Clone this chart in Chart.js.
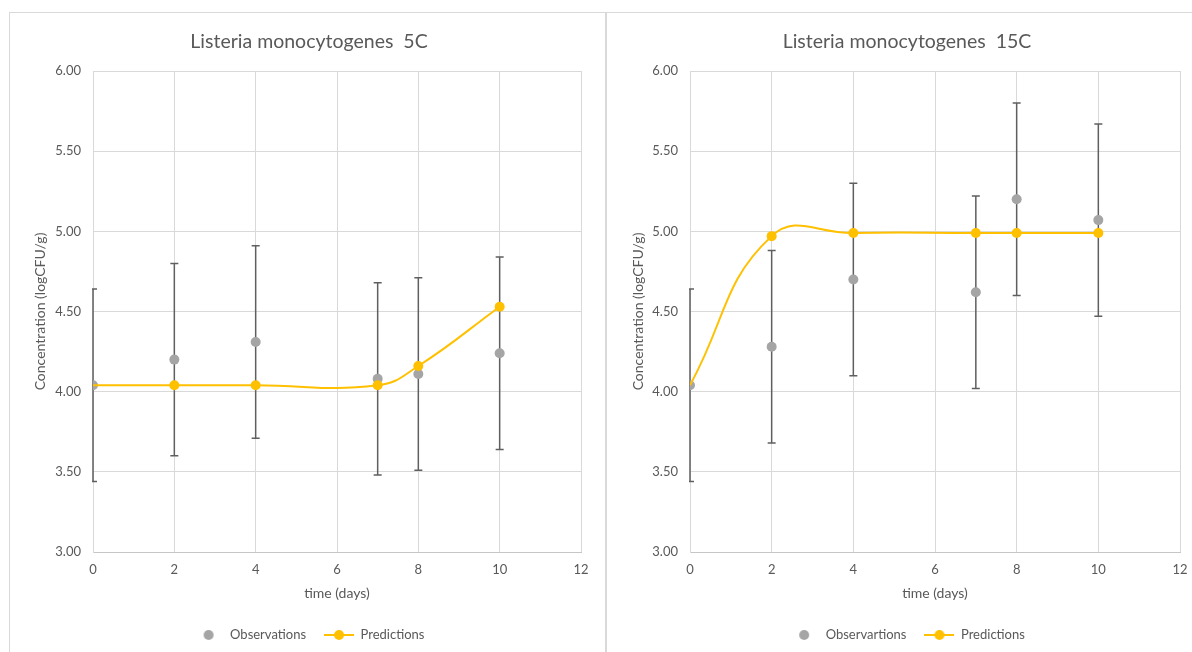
<!DOCTYPE html>
<html>
<head>
<meta charset="utf-8">
<title>Listeria monocytogenes growth</title>
<script src="https://cdn.jsdelivr.net/npm/chart.js@4.4.1/dist/chart.umd.min.js"></script>
<style>
  html, body { margin: 0; padding: 0; background: #ffffff; overflow: hidden; }
  .panel { position: absolute; top: 12px; height: 660px; border: 1px solid #D9D9D9; background: #ffffff; }
  #panel5 { left: 9px; width: 595px; }
  #panel15 { left: 606px; width: 620px; }
  .panel canvas { position: absolute; left: 0; top: 0; }
</style>
</head>
<body>
<div class="panel" id="panel5"><canvas id="chart5" width="595" height="640"></canvas></div>
<div class="panel" id="panel15"><canvas id="chart15" width="600" height="640"></canvas></div>
<script>
// Sampling days
const days = [0, 2, 4, 7, 8, 10];

// 5 °C storage: observed means, standard deviations and model predictions (log CFU/g)
const obs5C  = [4.04, 4.20, 4.31, 4.08, 4.11, 4.24];
const sd5C   = [0.60, 0.60, 0.60, 0.60, 0.60, 0.60];
const pred5C = [4.04, 4.04, 4.04, 4.04, 4.16, 4.53];

// 15 °C storage
const obs15C  = [4.04, 4.28, 4.70, 4.62, 5.20, 5.07];
const sd15C   = [0.60, 0.60, 0.60, 0.60, 0.60, 0.60];
const pred15C = [4.04, 4.97, 4.99, 4.99, 4.99, 4.99];

// Axis ticks
const xTicks = [0, 2, 4, 6, 8, 10, 12];
const yTicks = [3.0, 3.5, 4.0, 4.5, 5.0, 5.5, 6.0];

const TEXT = '#595959';
const GRID = '#D9D9D9';
const OBS_COLOR = '#A5A5A5';
const PRED_COLOR = '#FFC000';
const FONT = 'Lato, "Open Sans", sans-serif';

// Legend symbols: a plain marker, and a line with a marker
function markerSymbol(withLine) {
  const c = document.createElement('canvas');
  c.width = 30; c.height = 12;
  const g = c.getContext('2d');
  if (withLine) {
    g.strokeStyle = PRED_COLOR; g.lineWidth = 2;
    g.beginPath(); g.moveTo(0, 6); g.lineTo(30, 6); g.stroke();
  }
  g.fillStyle = withLine ? PRED_COLOR : OBS_COLOR;
  g.beginPath(); g.arc(15, 6, 5, 0, Math.PI * 2); g.fill();
  return c;
}
const legendSymbols = [markerSymbol(false), markerSymbol(true)];

// Vertical error bars (mean ± SD) for the observation dataset
const errorBarsPlugin = {
  id: 'errorBars',
  beforeDatasetsDraw(chart) {
    const ds = chart.data.datasets[0];
    const sd = ds.errorBars;
    if (!sd) return;
    const {ctx, chartArea, scales: {x, y}} = chart;
    ctx.save();
    ctx.beginPath();
    ctx.rect(chartArea.left - 1, chartArea.top - 2, chartArea.right - chartArea.left + 2, chartArea.bottom - chartArea.top + 4);
    ctx.clip();
    ctx.strokeStyle = '#5F5F5F';
    ctx.lineWidth = 1.5;
    ds.data.forEach((p, i) => {
      const px = x.getPixelForValue(p.x);
      const top = y.getPixelForValue(p.y + sd[i]);
      const bot = y.getPixelForValue(p.y - sd[i]);
      ctx.beginPath();
      ctx.moveTo(px, top); ctx.lineTo(px, bot);
      ctx.moveTo(px - 4, top); ctx.lineTo(px + 4, top);
      ctx.moveTo(px - 4, bot); ctx.lineTo(px + 4, bot);
      ctx.stroke();
    });
    ctx.restore();
  }
};

function makeChart(canvasId, title, obsLabel, obs, sd, pred, pad, yTitleOffset) {
  return new Chart(document.getElementById(canvasId), {
    type: 'scatter',
    data: {
      datasets: [
        {
          label: obsLabel,
          data: days.map((d, i) => ({x: d, y: obs[i]})),
          errorBars: sd,
          backgroundColor: OBS_COLOR,
          borderColor: OBS_COLOR,
          pointRadius: 5,
          pointHoverRadius: 5,
          borderWidth: 0,
          order: 1
        },
        {
          label: 'Predictions',
          data: days.map((d, i) => ({x: d, y: pred[i]})),
          showLine: true,
          tension: 0.45,
          borderColor: PRED_COLOR,
          backgroundColor: PRED_COLOR,
          borderWidth: 2,
          pointRadius: (c) => c.dataIndex === 0 ? 0 : 5,
          pointBorderWidth: 0,
          order: 0
        }
      ]
    },
    options: {
      responsive: false,
      animation: false,
      devicePixelRatio: 1,
      layout: { padding: pad },
      plugins: {
        tooltip: { enabled: false },
        title: {
          display: true,
          text: title,
          color: TEXT,
          font: { family: FONT, size: 19.5, weight: 'normal' },
          padding: { top: 17.3, bottom: 17.3 }
        },
        legend: {
          position: 'bottom',
          labels: {
            color: TEXT,
            font: { family: FONT, size: 13 },
            usePointStyle: true,
            pointStyleWidth: 30,
            padding: 18,
            sort: (a, b) => a.datasetIndex - b.datasetIndex,
            generateLabels(chart) {
              const items = Chart.defaults.plugins.legend.labels.generateLabels(chart);
              items.forEach(it => { it.pointStyle = legendSymbols[it.datasetIndex]; });
              return items;
            }
          }
        }
      },
      scales: {
        x: {
          type: 'linear',
          min: 0, max: 12,
          afterBuildTicks: (s) => { s.ticks = xTicks.map(v => ({value: v})); },
          afterFit: (s) => { s.height = 58.5; },
          grid: { color: GRID, lineWidth: 1, drawTicks: false },
          border: { color: '#C6C6C6', width: 1 },
          ticks: { color: TEXT, font: { family: FONT, size: 13 }, padding: 10.5, maxRotation: 0 },
          title: {
            display: true, text: 'time (days)', color: TEXT,
            font: { family: FONT, size: 14 }, padding: { top: 0, bottom: 9.1 }
          }
        },
        y: {
          type: 'linear',
          min: 3, max: 6,
          afterBuildTicks: (s) => { s.ticks = yTicks.map(v => ({value: v})); },
          afterFit: (s) => { s.width = 56; },
          grid: { color: GRID, lineWidth: 1, drawTicks: false },
          border: { color: GRID, width: 1 },
          ticks: { color: TEXT, font: { family: FONT, size: 13 }, padding: 12, callback: (v) => Number(v).toFixed(2) },
          title: {
            display: true, text: 'Concentration (logCFU/g)', color: TEXT,
            font: { family: FONT, size: 14 }, padding: { top: yTitleOffset - 8.4, bottom: 0 }
          }
        }
      }
    },
    plugins: [errorBarsPlugin]
  });
}

makeChart('chart5', 'Listeria monocytogenes  5C', 'Observations', obs5C, sd5C, pred5C,
  { left: 27, right: 24, top: 0, bottom: 1.5 }, 3);
makeChart('chart15', 'Listeria monocytogenes  15C', 'Observartions', obs15C, sd15C, pred15C,
  { left: 27, right: 27, top: 0, bottom: 1.5 }, 4.5);
</script>
</body>
</html>
